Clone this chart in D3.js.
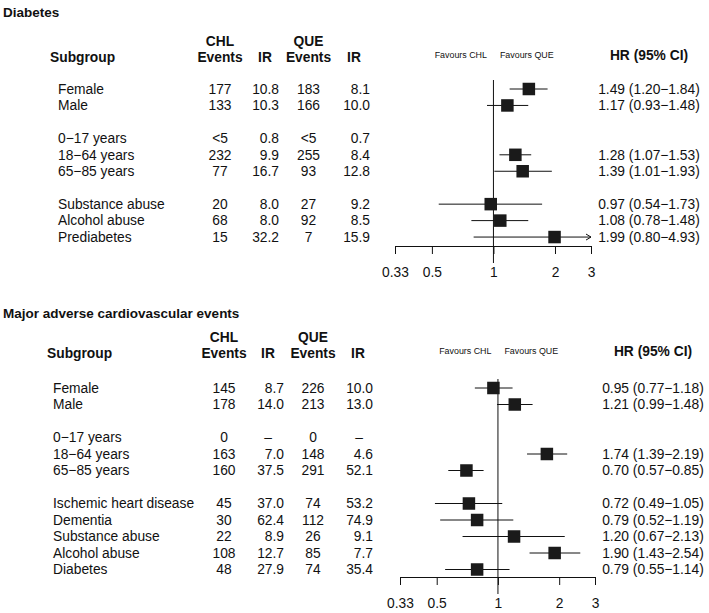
<!DOCTYPE html>
<html>
<head>
<meta charset="utf-8">
<script src="https://cdn.jsdelivr.net/npm/d3@7"></script>
<style>
  body { margin: 0; background: #fff; }
  svg { font-family: "Liberation Sans", Arial, sans-serif; }
</style>
</head>
<body>
<svg id="chart" width="709" height="613"></svg>
<script>
// tick values of the HR axis (log scale)
const hrTicks = [0.33, 0.5, 1, 2, 3];

// Diabetes panel
const diabSubgroups = ['Female', 'Male', '0\u221217 years', '18\u221264 years', '65\u221285 years', 'Substance abuse', 'Alcohol abuse', 'Prediabetes'];
const diabGroup = [0, 0, 1, 1, 1, 2, 2, 2];
const diabChlEvents = ['177', '133', '<5', '232', '77', '20', '68', '15'];
const diabChlIR = ['10.8', '10.3', '0.8', '9.9', '16.7', '8.0', '8.0', '32.2'];
const diabQueEvents = ['183', '166', '<5', '255', '93', '27', '92', '7'];
const diabQueIR = ['8.1', '10.0', '0.7', '8.4', '12.8', '9.2', '8.5', '15.9'];
const diabHR = [1.49, 1.17, null, 1.28, 1.39, 0.97, 1.08, 1.99];
const diabLo = [1.20, 0.93, null, 1.07, 1.01, 0.54, 0.78, 0.80];
const diabHi = [1.84, 1.48, null, 1.53, 1.93, 1.73, 1.48, 4.93];

// MACE panel
const maceSubgroups = ['Female', 'Male', '0\u221217 years', '18\u221264 years', '65\u221285 years', 'Ischemic heart disease', 'Dementia', 'Substance abuse', 'Alcohol abuse', 'Diabetes'];
const maceGroup = [0, 0, 1, 1, 1, 2, 2, 2, 2, 2];
const maceChlEvents = ['145', '178', '0', '163', '160', '45', '30', '22', '108', '48'];
const maceChlIR = ['8.7', '14.0', '\u2013', '7.0', '37.5', '37.0', '62.4', '8.9', '12.7', '27.9'];
const maceQueEvents = ['226', '213', '0', '148', '291', '74', '112', '26', '85', '74'];
const maceQueIR = ['10.0', '13.0', '\u2013', '4.6', '52.1', '53.2', '74.9', '9.1', '7.7', '35.4'];
const maceHR = [0.95, 1.21, null, 1.74, 0.70, 0.72, 0.79, 1.20, 1.90, 0.79];
const maceLo = [0.77, 0.99, null, 1.39, 0.57, 0.49, 0.52, 0.67, 1.43, 0.55];
const maceHi = [1.18, 1.48, null, 2.19, 0.85, 1.05, 1.19, 2.13, 2.54, 1.14];

const ink = '#111';
const svg = d3.select('#chart');
const fmt2 = d3.format('.2f');

function toRows(sub, grp, ce, ci, qe, qi, hr, lo, hi) {
    return sub.map((s, i) => ({
        label: s, slot: i + grp[i],
        chlEv: ce[i], chlIR: ci[i], queEv: qe[i], queIR: qi[i],
        hr: hr[i], lo: lo[i], hi: hi[i]
    }));
}

// layout of each panel (positions only)
const panels = [
    {
        title: 'Diabetes', titleY: 12, hdr1Y: 41, hdr2Y: 57, row0: 89, rowStep: 16.45,
        labelX: 58, subgroupX: 50, chlEvX: 220, chlIRX: 279, chlIRHdr: 265,
        queEvX: 308.5, queIRX: 370, queIRHdr: 354, hrX: 649,
        xRange: [395, 591], axisY: 246,
        rows: toRows(diabSubgroups, diabGroup, diabChlEvents, diabChlIR, diabQueEvents, diabQueIR, diabHR, diabLo, diabHi)
    },
    {
        title: 'Major adverse cardiovascular events', titleY: 313, hdr1Y: 337, hdr2Y: 353, row0: 388, rowStep: 16.5,
        labelX: 53, subgroupX: 47, chlEvX: 224, chlIRX: 284, chlIRHdr: 268,
        queEvX: 313, queIRX: 373, queIRHdr: 358, hrX: 653,
        xRange: [400, 595], axisY: 577,
        rows: toRows(maceSubgroups, maceGroup, maceChlEvents, maceChlIR, maceQueEvents, maceQueIR, maceHR, maceLo, maceHi)
    }
];

function txt(g, x, y, s, opts) {
    opts = opts || {};
    return g.append('text')
        .attr('x', x).attr('y', y).attr('dy', '0.35em')
        .attr('text-anchor', opts.anchor || 'start')
        .attr('font-size', opts.size || 13.8)
        .attr('font-weight', opts.bold ? 'bold' : null)
        .attr('fill', ink)
        .text(s);
}

panels.forEach(p => {
    const g = svg.append('g');
    const x = d3.scaleLog().domain([0.33, 3]).range(p.xRange);
    const lastSlot = d3.max(p.rows, r => r.slot);
    const y = d3.scaleLinear().domain([0, lastSlot]).range([p.row0, p.row0 + p.rowStep * lastSlot]);

    // titles and headers
    txt(g, 3, p.titleY, p.title, { bold: true, size: 13.5 });
    txt(g, p.subgroupX, p.hdr2Y, 'Subgroup', { bold: true });
    txt(g, p.chlEvX, p.hdr1Y, 'CHL', { bold: true, anchor: 'middle' });
    txt(g, p.chlEvX, p.hdr2Y, 'Events', { bold: true, anchor: 'middle' });
    txt(g, p.chlIRHdr, p.hdr2Y, 'IR', { bold: true, anchor: 'middle' });
    txt(g, p.queEvX, p.hdr1Y, 'QUE', { bold: true, anchor: 'middle' });
    txt(g, p.queEvX, p.hdr2Y, 'Events', { bold: true, anchor: 'middle' });
    txt(g, p.queIRHdr, p.hdr2Y, 'IR', { bold: true, anchor: 'middle' });
    txt(g, p.hrX, p.hdr2Y - 2, 'HR (95% CI)', { bold: true, anchor: 'middle' });
    txt(g, x(1) - 6.5, p.hdr2Y - 2, 'Favours CHL', { anchor: 'end', size: 8.9 });
    txt(g, x(1) + 6.5, p.hdr2Y - 2, 'Favours QUE', { anchor: 'start', size: 8.9 });

    // table columns
    p.rows.forEach(r => {
        const yy = y(r.slot);
        txt(g, p.labelX, yy, r.label);
        txt(g, p.chlEvX, yy, r.chlEv, { anchor: 'middle' });
        if (r.chlIR === '\u2013') txt(g, p.chlIRHdr, yy, r.chlIR, { anchor: 'middle' });
        else txt(g, p.chlIRX, yy, r.chlIR, { anchor: 'end' });
        txt(g, p.queEvX, yy, r.queEv, { anchor: 'middle' });
        if (r.queIR === '\u2013') txt(g, p.queIRHdr + 1, yy, r.queIR, { anchor: 'middle' });
        else txt(g, p.queIRX, yy, r.queIR, { anchor: 'end' });
        if (r.hr != null) {
            txt(g, p.hrX, yy, fmt2(r.hr) + ' (' + fmt2(r.lo) + '\u2212' + fmt2(r.hi) + ')', { anchor: 'middle' });
        }
    });

    // reference line at HR = 1
    g.append('line')
        .attr('x1', x(1)).attr('x2', x(1))
        .attr('y1', p.row0 - 9).attr('y2', p.axisY + 17)
        .attr('stroke', ink).attr('stroke-width', 1);

    // axis
    const axis = d3.axisBottom(x)
        .tickValues(hrTicks)
        .tickFormat(d => String(d))
        .tickSize(8)
        .tickSizeOuter(0)
        .tickPadding(13);
    const ag = g.append('g').attr('transform', `translate(0,${p.axisY})`).call(axis);
    ag.selectAll('path, line').attr('stroke', ink);
    ag.selectAll('text').attr('font-size', 13.8).attr('fill', ink)
        .attr('font-family', '"Liberation Sans", Arial, sans-serif');

    // CI lines, arrows and boxes
    const box = 12.5;
    const xMax = x.domain()[1];
    p.rows.filter(r => r.hr != null).forEach(r => {
        const yy = y(r.slot);
        const hiC = Math.min(r.hi, xMax);
        g.append('line')
            .attr('x1', x(r.lo)).attr('x2', x(hiC))
            .attr('y1', yy).attr('y2', yy)
            .attr('stroke', ink).attr('stroke-width', 1);
        if (r.hi > xMax) {
            const ax = x(xMax);
            g.append('path')
                .attr('d', `M${ax - 5},${yy - 3}L${ax},${yy}L${ax - 5},${yy + 3}`)
                .attr('fill', 'none').attr('stroke', ink).attr('stroke-width', 1);
        }
        g.append('rect')
            .attr('x', x(r.hr) - box / 2).attr('y', yy - box / 2)
            .attr('width', box).attr('height', box)
            .attr('fill', '#1a1a1a');
    });
});
</script>
</body>
</html>
